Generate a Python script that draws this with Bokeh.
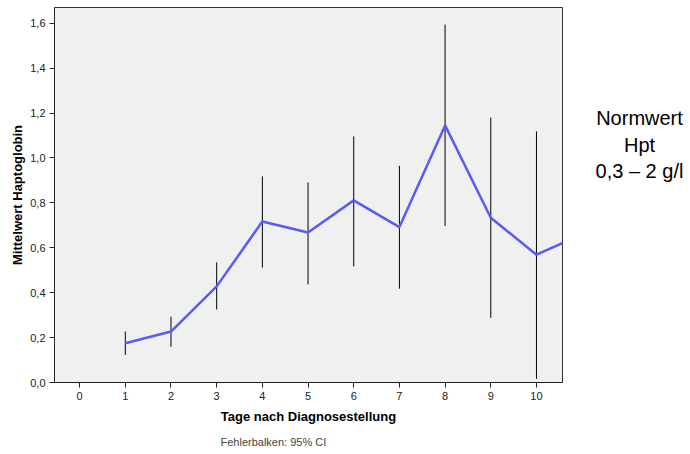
from bokeh.plotting import figure
from bokeh.models import Range1d, FixedTicker, Label, Title
from bokeh.layouts import row
from bokeh.embed import file_html
from bokeh.resources import INLINE

# Mean haptoglobin per day after diagnosis, with 95% CI bounds
days = [1, 2, 3, 4, 5, 6, 7, 8, 9, 10, 11]
mean_hpt = [0.175, 0.227, 0.428, 0.717, 0.668, 0.811, 0.692, 1.145, 0.734, 0.569, 0.66]
ci_low = [0.123, 0.159, 0.325, 0.512, 0.437, 0.517, 0.418, 0.697, 0.288, 0.016, None]
ci_high = [0.227, 0.293, 0.535, 0.918, 0.891, 1.096, 0.965, 1.594, 1.18, 1.118, None]

x_ticks = [0, 1, 2, 3, 4, 5, 6, 7, 8, 9, 10]
y_ticks = [0.0, 0.2, 0.4, 0.6, 0.8, 1.0, 1.2, 1.4, 1.6]
y_tick_labels = ["0,0", "0,2", "0,4", "0,6", "0,8", "1,0", "1,2", "1,4", "1,6"]

FONT = "Liberation Sans"

p = figure(width=564, height=454, output_backend="svg", toolbar_location=None,
           x_range=Range1d(-0.55, 10.57), y_range=Range1d(0, 1.67),
           min_border_left=54, min_border_right=2, min_border_top=7,
           min_border_bottom=72)
p.background_fill_color = "#F0F0F0"
p.border_fill_color = "white"
p.outline_line_color = "#333333"
p.outline_line_width = 1
p.grid.visible = False

# Axes
p.xaxis.ticker = FixedTicker(ticks=x_ticks)
p.yaxis.ticker = FixedTicker(ticks=y_ticks)
p.yaxis.major_label_overrides = {t: l for t, l in zip(y_ticks, y_tick_labels)}
for ax in (p.xaxis[0], p.yaxis[0]):
    ax.axis_line_color = "#222222"
    ax.major_tick_line_color = "#222222"
    ax.major_tick_in = 0
    ax.major_tick_out = 5
    ax.minor_tick_line_color = None
    ax.major_label_text_font = FONT
    ax.major_label_text_font_size = "11px"
    ax.major_label_text_color = "#222222"
    ax.axis_label_text_font = FONT
    ax.axis_label_text_font_style = "bold"
    ax.axis_label_text_font_size = "13px"
    ax.axis_label_text_color = "black"
p.xaxis.axis_label = "Tage nach Diagnosestellung"
p.yaxis.axis_label = "Mittelwert Haptoglobin"
p.xaxis.major_label_standoff = 4
p.xaxis.axis_label_standoff = 6
p.yaxis.major_label_standoff = 4
p.yaxis.axis_label_standoff = 2

# Footnote under the x axis
p.add_layout(Title(text="Fehlerbalken: 95% CI", text_font=FONT,
                   text_font_size="11px", text_font_style="normal",
                   align="left", offset=166, standoff=14), "below")

# Error bars
bx = [d for d, lo in zip(days, ci_low) if lo is not None]
blo = [lo for lo in ci_low if lo is not None]
bhi = [hi for hi in ci_high if hi is not None]
p.segment(x0=bx, y0=blo, x1=bx, y1=bhi, line_color="black", line_width=1)

# Mean line
p.line(days, mean_hpt, line_color="#5A5AFA", line_width=2.5)

# Side panel with the reference range
q = figure(width=126, height=454, output_backend="svg", toolbar_location=None,
           x_range=Range1d(0, 126), y_range=Range1d(0, 454),
           min_border=0, outline_line_color=None)
q.axis.visible = False
q.grid.visible = False
q.add_layout(Label(x=75, y=288, text="Normwert\nHpt\n0,3 \u2013 2 g/l",
                   text_font=FONT, text_font_size="20px", text_align="center",
                   text_baseline="middle", text_color="black",
                   text_line_height=1.2))

open("out.html", "w").write(file_html(row(p, q, spacing=0), INLINE))
